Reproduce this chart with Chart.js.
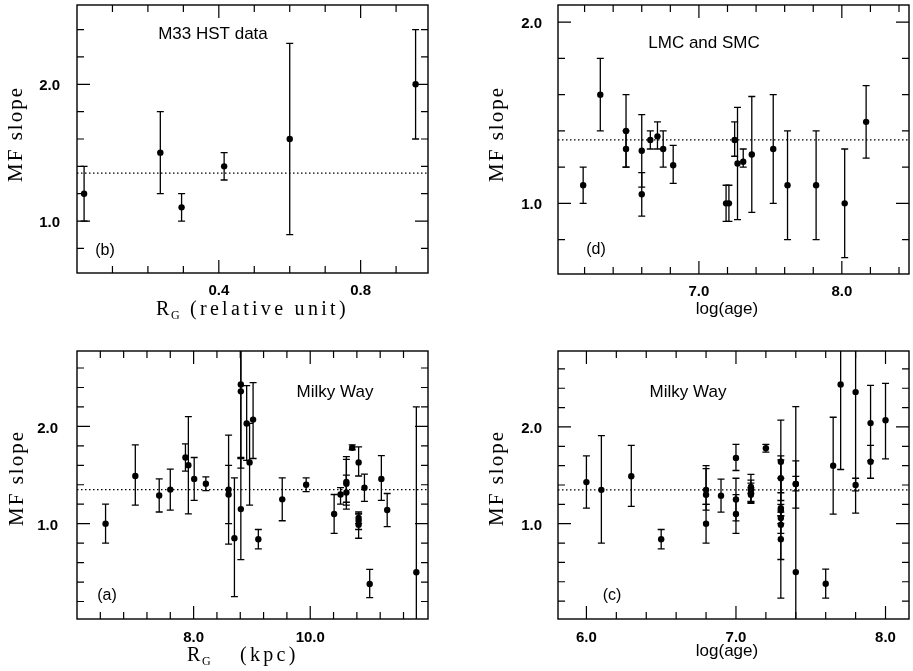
<!DOCTYPE html>
<html>
<head>
<meta charset="utf-8">
<script src="https://cdn.jsdelivr.net/npm/chart.js@4.4.0/dist/chart.umd.min.js"></script>
<style>
  body { margin: 0; background: #fff; }
  #wrap { position: relative; width: 913px; height: 671px; }
  canvas { position: absolute; }
</style>
</head>
<body>
<div id="wrap">
  <canvas id="panelB" width="456" height="330" style="left:0;top:0"></canvas>
  <canvas id="panelD" width="453" height="330" style="left:460px;top:0"></canvas>
  <canvas id="panelA" width="456" height="341" style="left:0;top:330px"></canvas>
  <canvas id="panelC" width="453" height="341" style="left:460px;top:330px"></canvas>
</div>
<script>
// Salpeter slope (dotted line)
const salpeter = 1.35;

// (b) M33 HST data
const bX  = [0.02, 0.235, 0.295, 0.415, 0.60, 0.955];
const bY  = [1.20, 1.50, 1.10, 1.40, 1.60, 2.00];
const bLo = [1.00, 1.20, 1.00, 1.30, 0.90, 1.60];
const bHi = [1.40, 1.80, 1.20, 1.50, 2.30, 2.40];
const bXTicks = [0.1, 0.2, 0.3, 0.4, 0.5, 0.6, 0.7, 0.8, 0.9];
const bXMajor = [0.4, 0.8];
const bYTicks = [0.8, 1.0, 1.2, 1.4, 1.6, 1.8, 2.0, 2.2, 2.4];

// (d) LMC and SMC
const dX  = [6.19, 6.31, 6.49, 6.49, 6.60, 6.60, 6.66, 6.71, 6.75, 6.82, 7.19, 7.21, 7.25, 7.27, 7.31, 7.37, 7.52, 7.62, 7.82, 8.02, 8.17];
const dY  = [1.10, 1.60, 1.40, 1.30, 1.29, 1.05, 1.35, 1.37, 1.30, 1.21, 1.00, 1.00, 1.35, 1.22, 1.23, 1.27, 1.30, 1.10, 1.10, 1.00, 1.45];
const dLo = [1.00, 1.40, 1.20, 1.20, 1.09, 0.93, 1.30, 1.30, 1.20, 1.11, 0.90, 0.90, 1.26, 0.91, 1.20, 0.95, 1.00, 0.80, 0.80, 0.70, 1.25];
const dHi = [1.20, 1.80, 1.60, 1.40, 1.49, 1.17, 1.40, 1.45, 1.40, 1.32, 1.10, 1.10, 1.45, 1.53, 1.30, 1.59, 1.60, 1.40, 1.40, 1.30, 1.65];
const dXTicks = [6.2, 6.4, 6.6, 6.8, 7.0, 7.2, 7.4, 7.6, 7.8, 8.0, 8.2, 8.4];
const dXMajor = [7.0, 8.0];
const dYTicks = [0.8, 1.0, 1.2, 1.4, 1.6, 1.8, 2.0];

// (a) Milky Way vs R_G
const aX  = [6.49, 7.00, 7.41, 7.60, 7.86, 7.91, 8.01, 8.21, 8.60, 8.60, 8.70, 8.81, 8.81, 8.81, 8.91, 8.96, 9.02, 9.11, 9.52, 9.93,
             10.41, 10.52, 10.62, 10.62, 10.62, 10.72, 10.83, 10.83, 10.83, 10.83, 10.93, 11.02, 11.22, 11.32, 11.82];
const aY  = [1.00, 1.49, 1.29, 1.35, 1.68, 1.60, 1.46, 1.41, 1.35, 1.30, 0.85, 2.43, 2.36, 1.15, 2.03, 1.63, 2.07, 0.84, 1.25, 1.40,
             1.10, 1.30, 1.43, 1.41, 1.32, 1.78, 1.63, 1.06, 1.03, 0.99, 1.37, 0.38, 1.46, 1.14, 0.50];
const aLo = [0.80, 1.19, 1.12, 1.14, 1.54, 1.10, 1.24, 1.34, 0.79, 1.00, 0.25, 1.68, 1.57, 0.63, 1.65, 1.19, 1.67, 0.74, 1.03, 1.33,
             0.90, 1.20, 1.19, 1.22, 1.15, 1.76, 1.49, 1.00, 0.94, 0.85, 1.23, 0.24, 1.24, 0.97, -1.20];
const aHi = [1.20, 1.81, 1.46, 1.56, 1.82, 2.10, 1.68, 1.48, 1.91, 1.60, 1.47, 3.20, 3.20, 1.67, 2.42, 2.03, 2.45, 0.94, 1.47, 1.47,
             1.30, 1.37, 1.66, 1.69, 1.50, 1.81, 1.79, 1.12, 1.10, 1.10, 1.51, 0.53, 1.70, 1.31, 2.20];
const aXTicks = [6.4, 6.8, 7.2, 7.6, 8.0, 8.4, 8.8, 9.2, 9.6, 10.0, 10.4, 10.8, 11.2, 11.6];
const aXMajor = [8.0, 10.0];
const mwYTicks = [0.2, 0.4, 0.6, 0.8, 1.0, 1.2, 1.4, 1.6, 1.8, 2.0, 2.2, 2.4, 2.6];

// (c) Milky Way vs log(age)
const cX  = [6.00, 6.10, 6.30, 6.50, 6.80, 6.80, 6.80, 6.90, 7.00, 7.00, 7.00, 7.10, 7.10, 7.10, 7.10, 7.20, 7.30, 7.30, 7.30, 7.30,
             7.30, 7.30, 7.30, 7.40, 7.40, 7.40, 7.60, 7.65, 7.70, 7.80, 7.80, 7.90, 7.90, 8.00];
const cY  = [1.43, 1.35, 1.49, 0.84, 1.35, 1.30, 1.00, 1.29, 1.68, 1.25, 1.10, 1.38, 1.35, 1.32, 1.30, 1.78, 1.64, 1.47, 1.16, 1.14,
             1.06, 0.99, 0.84, 1.41, 1.41, 0.50, 0.38, 1.60, 2.44, 2.36, 1.40, 2.04, 1.64, 2.07];
const cLo = [1.16, 0.80, 1.18, 0.74, 1.20, 1.14, 0.80, 1.12, 1.55, 1.03, 0.90, 1.31, 1.22, 1.21, 1.23, 1.74, 1.24, 1.32, 0.63, 1.08,
             1.00, 0.90, 0.23, 1.34, 1.16, -1.20, 0.23, 1.10, 1.56, 1.11, 1.34, 1.65, 1.47, 1.67];
const cHi = [1.70, 1.91, 1.81, 0.94, 1.60, 1.57, 1.20, 1.46, 1.82, 1.47, 1.30, 1.45, 1.51, 1.42, 1.37, 1.82, 2.07, 1.66, 1.70, 1.20,
             1.12, 1.08, 1.47, 1.49, 1.65, 2.21, 0.53, 2.10, 3.30, 3.60, 1.47, 2.43, 1.81, 2.45];
const cXTicks = [6.0, 6.2, 6.4, 6.6, 6.8, 7.0, 7.2, 7.4, 7.6, 7.8, 8.0];
const cXMajor = [6.0, 7.0, 8.0];
const yMajor = [1.0, 2.0];

const serif = '"Liberation Serif", "Times New Roman", serif';
const sans = '"Liberation Sans", Arial, sans-serif';

// error bars, frame with inward ticks, labels
const framePlugin = {
  id: 'frame',
  beforeDatasetsDraw(chart) {
    const { ctx, chartArea: a, scales: { x, y } } = chart;
    const ds = chart.data.datasets[0];
    ctx.save();
    ctx.beginPath();
    ctx.rect(a.left, a.top, a.right - a.left, a.bottom - a.top);
    ctx.clip();
    ctx.strokeStyle = '#000';
    ctx.lineWidth = 1.3;
    ds.data.forEach((p, i) => {
      const px = x.getPixelForValue(p.x);
      const y0 = y.getPixelForValue(ds.errLo[i]);
      const y1 = y.getPixelForValue(ds.errHi[i]);
      ctx.beginPath();
      ctx.moveTo(px, y0); ctx.lineTo(px, y1);
      ctx.moveTo(px - 3.5, y0); ctx.lineTo(px + 3.5, y0);
      ctx.moveTo(px - 3.5, y1); ctx.lineTo(px + 3.5, y1);
      ctx.stroke();
    });
    ctx.restore();
  },
  afterDraw(chart, args, opts) {
    const { ctx, chartArea: a, scales: { x, y } } = chart;
    ctx.save();
    ctx.strokeStyle = '#000';
    ctx.lineWidth = 1.4;
    ctx.strokeRect(a.left, a.top, a.right - a.left, a.bottom - a.top);
    ctx.lineWidth = 1.2;
    ctx.beginPath();
    x.ticks.forEach(t => {
      const px = x.getPixelForValue(t.value);
      const len = t.label !== '' ? 13 : 7;
      ctx.moveTo(px, a.bottom); ctx.lineTo(px, a.bottom - len);
      ctx.moveTo(px, a.top); ctx.lineTo(px, a.top + len);
    });
    y.ticks.forEach(t => {
      const py = y.getPixelForValue(t.value);
      const len = t.label !== '' ? 13 : 7;
      ctx.moveTo(a.left, py); ctx.lineTo(a.left + len, py);
      ctx.moveTo(a.right, py); ctx.lineTo(a.right - len, py);
    });
    ctx.stroke();

    ctx.fillStyle = '#000';
    ctx.textAlign = 'center';
    ctx.textBaseline = 'middle';
    ctx.font = '17px ' + sans;
    ctx.fillText(opts.note, opts.noteX, opts.noteY);
    ctx.font = '16px ' + sans;
    ctx.fillText(opts.tag, opts.tagX, opts.tagY);

    // y title
    ctx.save();
    ctx.translate(opts.yTitleX, opts.yTitleY);
    ctx.rotate(-Math.PI / 2);
    ctx.font = '21px ' + serif;
    ctx.letterSpacing = '2px';
    ctx.fillText('MF slope', 0, 0);
    ctx.restore();

    // x title
    ctx.textBaseline = 'alphabetic';
    if (opts.xTitle === 'log(age)') {
      ctx.font = '17px ' + sans;
      ctx.fillText('log(age)', opts.xTitleX, opts.xTitleY);
    } else {
      ctx.textAlign = 'left';
      ctx.font = '20px ' + serif;
      ctx.fillText('R', opts.xTitleX, opts.xTitleY);
      ctx.font = '12px ' + serif;
      ctx.fillText('G', opts.xTitleX + 15, opts.xTitleY + 4);
      ctx.font = '20px ' + serif;
      ctx.letterSpacing = '3.3px';
      ctx.fillText(opts.xTitle, opts.xTitleX + opts.restDx, opts.xTitleY);
      ctx.letterSpacing = '0px';
    }
    ctx.restore();
  }
};

function makePanel(id, p) {
  const canvas = document.getElementById(id);
  const W = canvas.width, H = canvas.height;
  const pts = p.xs.map((v, i) => ({ x: v, y: p.ys[i] }));
  const tickFont = { family: sans, size: 15, weight: 'bold' };
  new Chart(canvas, {
    type: 'scatter',
    data: {
      datasets: [
        { data: pts, errLo: p.lo, errHi: p.hi, pointRadius: 3.2, pointBackgroundColor: '#000',
          pointBorderWidth: 0, backgroundColor: '#000' },
        { type: 'line', data: [{ x: p.xRange[0], y: salpeter }, { x: p.xRange[1], y: salpeter }],
          borderColor: '#000', borderWidth: 1.2, borderDash: [1.5, 2.5], pointRadius: 0, fill: false }
      ]
    },
    options: {
      responsive: false,
      animation: false,
      devicePixelRatio: 1,
      events: [],
      layout: { padding: { left: 0, top: p.area.top, right: W - p.area.right, bottom: 0 } },
      plugins: {
        legend: { display: false },
        tooltip: { enabled: false },
        frame: p.frame
      },
      scales: {
        x: {
          type: 'linear', min: p.xRange[0], max: p.xRange[1],
          grid: { display: false }, border: { display: false },
          afterBuildTicks: s => { s.ticks = p.xTicks.map(v => ({ value: v })); },
          afterFit: s => { s.height = H - p.area.bottom; s.paddingLeft = 0; s.paddingRight = 0; },
          ticks: { autoSkip: false, maxRotation: 0, padding: p.xPad, font: tickFont, color: '#000',
                   callback: v => p.xMajor.includes(v) ? v.toFixed(1) : '' }
        },
        y: {
          type: 'linear', min: p.yRange[0], max: p.yRange[1],
          grid: { display: false }, border: { display: false },
          afterBuildTicks: s => { s.ticks = p.yTicks.map(v => ({ value: v })); },
          afterFit: s => { s.width = p.area.left; s.paddingTop = 0; s.paddingBottom = 0; },
          ticks: { autoSkip: false, padding: p.yPad, labelOffset: 2, font: tickFont, color: '#000',
                   callback: v => yMajor.includes(v) ? v.toFixed(1) : '' }
        }
      }
    },
    plugins: [framePlugin]
  });
}

makePanel('panelB', {
  xs: bX, ys: bY, lo: bLo, hi: bHi,
  xRange: [0.0, 0.99], yRange: [0.62, 2.58],
  xTicks: bXTicks, xMajor: bXMajor, yTicks: bYTicks,
  area: { left: 77, top: 5, right: 428, bottom: 273 }, xPad: 1, yPad: 9,
  frame: { note: 'M33 HST data', noteX: 213, noteY: 34, tag: '(b)', tagX: 105, tagY: 251,
           yTitleX: 16, yTitleY: 134, xTitle: '(relative unit)', xTitleX: 156, xTitleY: 315, restDx: 34 }
});

makePanel('panelD', {
  xs: dX, ys: dY, lo: dLo, hi: dHi,
  xRange: [6.014, 8.47], yRange: [0.61, 2.095],
  xTicks: dXTicks, xMajor: dXMajor, yTicks: dYTicks,
  area: { left: 98, top: 5, right: 452, bottom: 274 }, xPad: 1, yPad: 8,
  frame: { note: 'LMC and SMC', noteX: 244, noteY: 43, tag: '(d)', tagX: 136, tagY: 250,
           yTitleX: 37, yTitleY: 134, xTitle: 'log(age)', xTitleX: 267, xTitleY: 314 }
});

makePanel('panelA', {
  xs: aX, ys: aY, lo: aLo, hi: aHi,
  xRange: [6.0, 12.02], yRange: [0.02, 2.775],
  xTicks: aXTicks, xMajor: aXMajor, yTicks: mwYTicks,
  area: { left: 77, top: 21, right: 428, bottom: 289 }, xPad: 2, yPad: 11,
  frame: { note: 'Milky Way', noteX: 335, noteY: 62, tag: '(a)', tagX: 107, tagY: 266,
           yTitleX: 17, yTitleY: 148, xTitle: '(kpc)', xTitleX: 187, xTitleY: 331, restDx: 53 }
});

makePanel('panelC', {
  xs: cX, ys: cY, lo: cLo, hi: cHi,
  xRange: [5.81, 8.157], yRange: [0.015, 2.785],
  xTicks: cXTicks, xMajor: cXMajor, yTicks: mwYTicks,
  area: { left: 98, top: 21, right: 452, bottom: 289 }, xPad: 2, yPad: 8,
  frame: { note: 'Milky Way', noteX: 228, noteY: 62, tag: '(c)', tagX: 152, tagY: 266,
           yTitleX: 37, yTitleY: 148, xTitle: 'log(age)', xTitleX: 267, xTitleY: 326 }
});
</script>
</body>
</html>
